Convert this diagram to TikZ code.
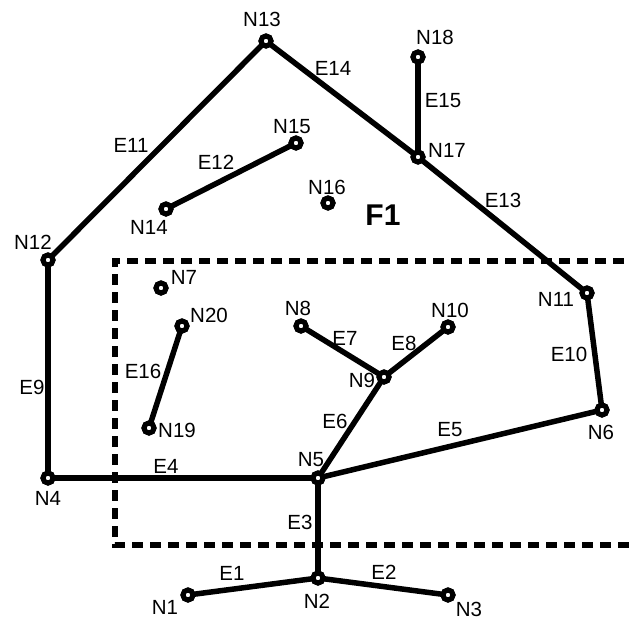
\documentclass[tikz,border=0pt]{standalone}
\usepackage{fontspec}
\setmainfont{Liberation Sans}
\begin{document}
\begin{tikzpicture}[x=1pt,y=-1pt,
  vtx/.style={circle,draw=black,fill=white,line width=5pt,minimum size=10pt,inner sep=0pt},
  edg/.style={line width=5.5pt,draw=black},
  lbl/.style={inner sep=0pt,font=\fontsize{20.5}{20.5}\selectfont},
  face/.style={inner sep=0pt,font=\fontsize{30}{30}\selectfont\bfseries},
  region/.style={line width=5.5pt,dash pattern=on 11pt off 7pt}]
\clip (0,0) rectangle (629,621);
\fill[white] (0,0) rectangle (629,621);
% dashed region
\coordinate (r1) at (115,261);
\draw[region] (660,261) -- (r1) -- (115,545) -- (660,545);
% vertices
\node[vtx] (N1) at (188,595) {};
\node[vtx] (N2) at (318,578) {};
\node[vtx] (N3) at (448,595) {};
\node[vtx] (N4) at (48,478) {};
\node[vtx] (N5) at (318,478) {};
\node[vtx] (N6) at (602,410) {};
\node[vtx] (N7) at (161,288) {};
\node[vtx] (N8) at (301,326) {};
\node[vtx] (N9) at (384,377) {};
\node[vtx] (N10) at (448,327) {};
\node[vtx] (N11) at (587,293) {};
\node[vtx] (N12) at (48,260) {};
\node[vtx] (N13) at (266,41) {};
\node[vtx] (N14) at (166,209) {};
\node[vtx] (N15) at (296,143) {};
\node[vtx] (N16) at (328,203) {};
\node[vtx] (N17) at (418,157) {};
\node[vtx] (N18) at (418,57) {};
\node[vtx] (N19) at (149,428) {};
\node[vtx] (N20) at (182,326) {};
% edges
\draw[edg] (N1.center) -- (N2.center);
\draw[edg] (N2.center) -- (N3.center);
\draw[edg] (N2.center) -- (N5.center);
\draw[edg] (N4.center) -- (N5.center);
\draw[edg] (N5.center) -- (N6.center);
\draw[edg] (N5.center) -- (N9.center);
\draw[edg] (N8.center) -- (N9.center);
\draw[edg] (N9.center) -- (N10.center);
\draw[edg] (N4.center) -- (N12.center);
\draw[edg] (N6.center) -- (N11.center);
\draw[edg] (N12.center) -- (N13.center);
\draw[edg] (N14.center) -- (N15.center);
\draw[edg] (N17.center) -- (N11.center);
\draw[edg] (N13.center) -- (N17.center);
\draw[edg] (N17.center) -- (N18.center);
\draw[edg] (N19.center) -- (N20.center);
% redraw vertices on top
\foreach \v in {N1,N2,N3,N4,N5,N6,N7,N8,N9,N10,N11,N12,N13,N14,N15,N16,N17,N18,N19,N20}
  \node[vtx] at (\v) {};
% vertex labels
\node[lbl] (tN1) at (165,607) {N1};
\node[lbl] (tN2) at (317,601) {N2};
\node[lbl] (tN3) at (469,609) {N3};
\node[lbl] (tN4) at (48,498) {N4};
\node[lbl] (tN5) at (311,460) {N5};
\node[lbl] (tN6) at (601,432) {N6};
\node[lbl] (tN7) at (184,277) {N7};
\node[lbl] (tN8) at (298,308) {N8};
\node[lbl] (tN9) at (362,380) {N9};
\node[lbl] (tN10) at (450,310) {N10};
\node[lbl] (tN11) at (556,299) {N11};
\node[lbl] (tN12) at (33,242) {N12};
\node[lbl] (tN13) at (262,19) {N13};
\node[lbl] (tN14) at (149,227) {N14};
\node[lbl] (tN15) at (292,127) {N15};
\node[lbl] (tN16) at (327,187) {N16};
\node[lbl] (tN17) at (447,150) {N17};
\node[lbl] (tN18) at (435,37) {N18};
\node[lbl] (tN19) at (177,430) {N19};
\node[lbl] (tN20) at (209,315) {N20};
% edge labels
\node[lbl] (tE1) at (232,573) {E1};
\node[lbl] (tE2) at (384,572) {E2};
\node[lbl] (tE3) at (300,522) {E3};
\node[lbl] (tE4) at (166,466) {E4};
\node[lbl] (tE5) at (450,430) {E5};
\node[lbl] (tE6) at (335,421) {E6};
\node[lbl] (tE7) at (345,338) {E7};
\node[lbl] (tE8) at (404,343) {E8};
\node[lbl] (tE9) at (32,387) {E9};
\node[lbl] (tE10) at (569,354) {E10};
\node[lbl] (tE11) at (131,145) {E11};
\node[lbl] (tE12) at (216,162) {E12};
\node[lbl] (tE13) at (503,200) {E13};
\node[lbl] (tE14) at (333,68) {E14};
\node[lbl] (tE15) at (443,101) {E15};
\node[lbl] (tE16) at (143,371) {E16};
\node[face] (F1) at (383,215) {F1};
\end{tikzpicture}
\end{document}
